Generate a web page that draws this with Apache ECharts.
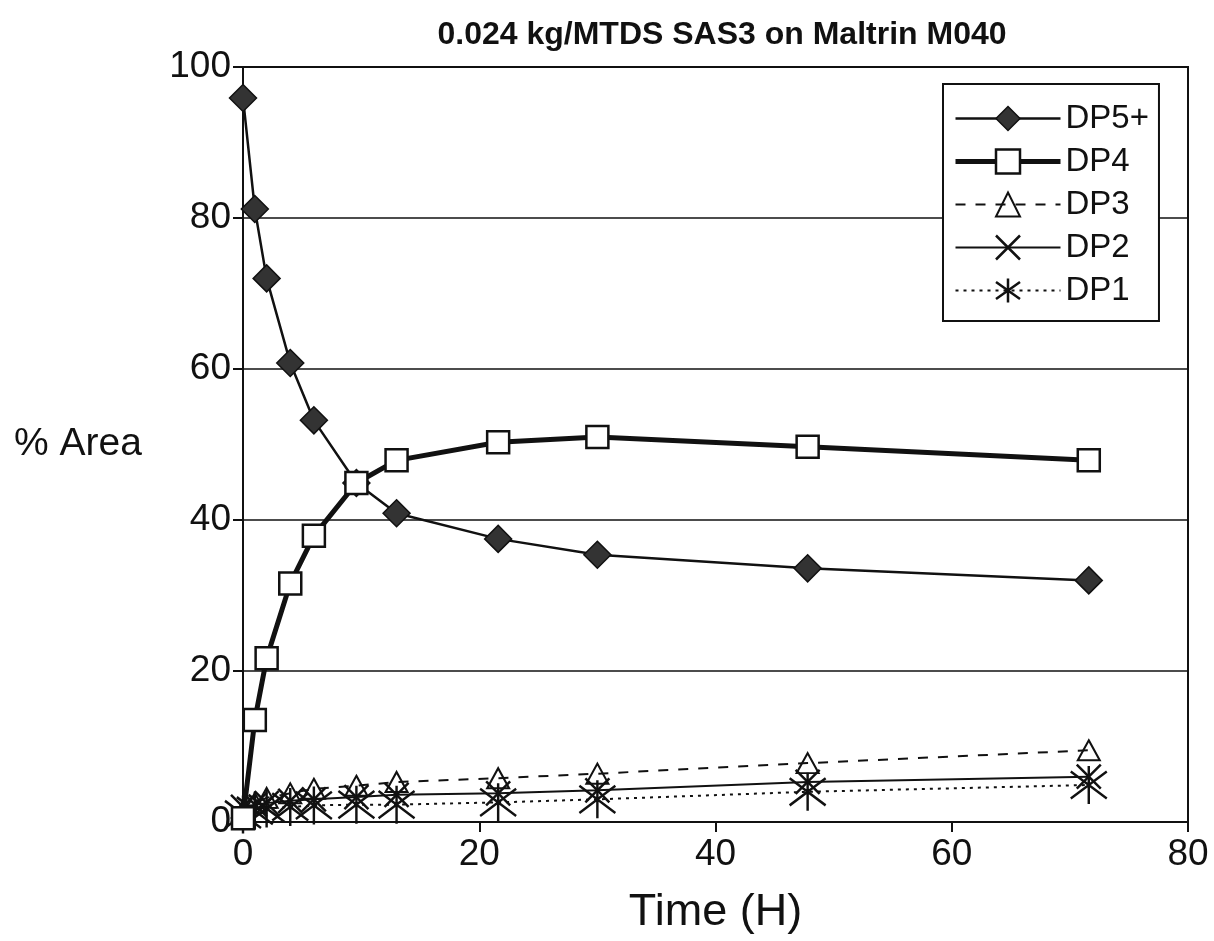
<!DOCTYPE html>
<html>
<head>
<meta charset="utf-8">
<script src="https://cdn.jsdelivr.net/npm/echarts@6/dist/echarts.min.js"></script>
<style>
html,body{margin:0;padding:0;background:#fff;}
#chart{width:1214px;height:941px;}
</style>
</head>
<body>
<div id="chart"></div>
<script>
const titleText = '0.024 kg/MTDS SAS3 on Maltrin M040';
const xName = 'Time (H)';
const yName = '% Area';
const times = [0, 1, 2, 4, 6, 9.6, 13, 21.6, 30, 47.8, 71.6];
const seriesNames = ['DP5+', 'DP4', 'DP3', 'DP2', 'DP1'];
const dp5 = [95.9, 81.2, 72.0, 60.8, 53.2, 44.9, 40.9, 37.5, 35.4, 33.6, 32.0];
const dp4 = [0.5, 13.5, 21.7, 31.6, 37.9, 44.9, 47.9, 50.3, 51.0, 49.7, 47.9];
const dp3 = [1.5, 2.5, 3.2, 3.8, 4.4, 4.8, 5.3, 5.8, 6.4, 7.8, 9.5];
const dp2 = [2.0, 2.3, 2.5, 2.8, 3.0, 3.3, 3.6, 3.8, 4.2, 5.3, 6.0];
const dp1 = [1.0, 1.5, 1.8, 2.0, 2.2, 2.3, 2.3, 2.6, 3.0, 4.0, 4.9];
const xTicks = [0, 20, 40, 60, 80];
const yTicks = [0, 20, 40, 60, 80, 100];

function pairs(ys){ return times.map((t,i)=>[t, ys[i]]); }
const FONT = 'Liberation Sans';
const chart = echarts.init(document.getElementById('chart'), null, {renderer:'canvas'});
const xSym = 'path://M0,0L10,10M10,0L0,10';
const starSym = 'path://M0,0L10,10M10,0L0,10M5,-2L5,12';
const INK = '#111';
const TRANSP = 'rgba(255,255,255,0)';

const styles = [
  {symbol:'diamond', symbolSize:27, line:{color:INK, width:2.5}, item:{color:'#333', borderColor:INK, borderWidth:1.5}},
  {symbol:'rect', symbolSize:22, line:{color:INK, width:5}, item:{color:'#fff', borderColor:INK, borderWidth:2.5}},
  {symbol:'triangle', symbolSize:[22,20], line:{color:INK, width:2, type:[10,10]}, item:{color:TRANSP, borderColor:INK, borderWidth:2}},
  {symbol:xSym, symbolSize:24, line:{color:INK, width:2}, item:{color:TRANSP, borderColor:INK, borderWidth:2.5}},
  {symbol:starSym, symbolSize:[36,38], line:{color:INK, width:2, type:[3,5]}, item:{color:TRANSP, borderColor:INK, borderWidth:2.5}}
];
const allData = [dp5, dp4, dp3, dp2, dp1];
const zs = [5, 6, 4, 3, 2];

const option = {
  backgroundColor:'#fff',
  animation:false,
  title:{
    text:titleText, left:717, top:14, textAlign:'center',
    textStyle:{fontFamily:FONT, fontWeight:'bold', fontSize:32, color:INK}
  },
  grid:{left:243, right:26, top:67, bottom:119, show:true, borderColor:INK, borderWidth:2,
        containLabel:false, outerBoundsMode:'none'},
  legend:{
    orient:'vertical', left:943, top:84,
    padding:[18,10,14,10], itemWidth:105, itemHeight:30, itemGap:10,
    backgroundColor:'#fff', borderColor:INK, borderWidth:2,
    textStyle:{fontFamily:FONT, fontSize:33, color:INK, lineHeight:33},
    data:seriesNames.map((n,i)=>({
      name:n,
      itemStyle:styles[i].item,
      lineStyle:styles[i].line
    }))
  },
  xAxis:{
    type:'value', min:xTicks[0], max:xTicks[xTicks.length-1], interval:20,
    name:xName, nameLocation:'middle', nameGap:68,
    nameTextStyle:{fontFamily:FONT, fontSize:45, color:INK},
    axisLine:{show:true, onZero:false, lineStyle:{color:INK, width:2}},
    axisTick:{show:true, inside:false, length:10, lineStyle:{color:INK, width:2}},
    axisLabel:{fontFamily:FONT, fontSize:37, color:INK, margin:14},
    splitLine:{show:false}
  },
  yAxis:{
    type:'value', min:yTicks[0], max:yTicks[yTicks.length-1], interval:20,
    name:yName, nameLocation:'middle', nameRotate:0, nameGap:165,
    nameTextStyle:{fontFamily:FONT, fontSize:39, color:INK, align:'center'},
    axisLine:{show:true, onZero:false, lineStyle:{color:INK, width:2}},
    axisTick:{show:true, inside:false, length:10, lineStyle:{color:INK, width:2}},
    axisLabel:{fontFamily:FONT, fontSize:37, color:INK, margin:12},
    splitLine:{show:true, lineStyle:{color:INK, width:1.5}}
  },
  series:seriesNames.map((n,i)=>({
    name:n, type:'line', data:pairs(allData[i]), symbol:styles[i].symbol, symbolSize:styles[i].symbolSize,
    z:zs[i], lineStyle:styles[i].line, itemStyle:styles[i].item
  }))
};
chart.setOption(option);
</script>
</body>
</html>
